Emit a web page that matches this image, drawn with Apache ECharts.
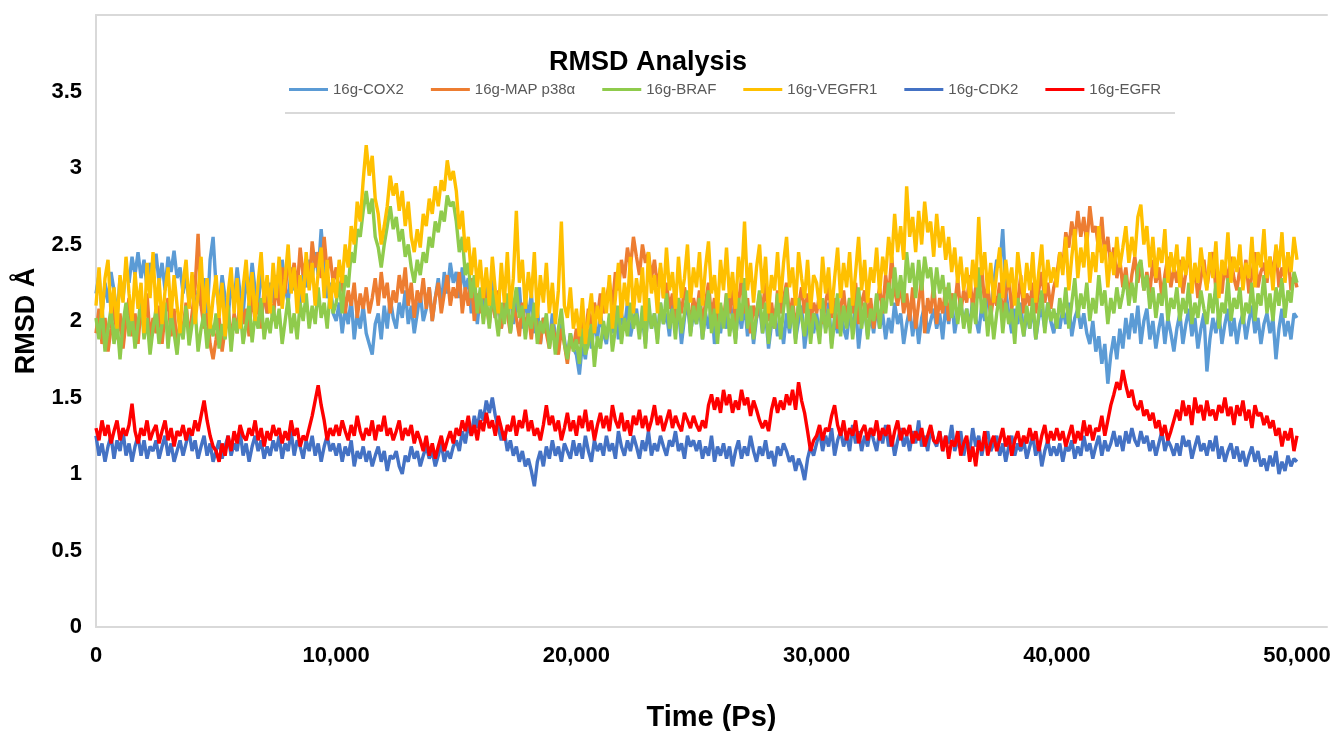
<!DOCTYPE html>
<html>
<head>
<meta charset="utf-8">
<title>RMSD Analysis</title>
<script src="https://cdn.jsdelivr.net/npm/echarts@6/dist/echarts.min.js"></script>
<style>
  html, body { margin: 0; padding: 0; background: #fff; }
  #main { width: 1330px; height: 731px; }
</style>
</head>
<body>
<div id="main"></div>
<script>
// sampling step of the trajectories (ps)
var STEP = 125;
var seriesNames = ['16g-COX2', '16g-MAP p38\u03b1', '16g-BRAF', '16g-VEGFR1', '16g-CDK2', '16g-EGFR'];
var seriesColors = ['#5B9BD5', '#ED7D31', '#8FCB4C', '#FFC000', '#4472C4', '#FF0000'];
var xTicks = [0, 10000, 20000, 30000, 40000, 50000];
var yTicks = [0, 0.5, 1, 1.5, 2, 2.5, 3, 3.5];

// RMSD values (Å), one value every 125 ps, 0 - 50,000 ps (one line = 1250 ps)
var cox2 = [
  2.18,2.30,2.05,2.25,2.12,2.32,2.20,2.02,2.28,2.15,
  2.35,2.25,2.42,2.30,2.45,2.28,2.40,2.22,2.38,2.30,
  2.44,2.25,2.38,2.20,2.42,2.32,2.46,2.28,2.35,2.18,
  2.30,2.12,2.25,2.05,2.20,2.10,2.28,2.02,2.40,2.55,
  2.22,2.08,2.30,2.15,2.02,2.25,2.12,2.35,2.18,2.05,
  2.28,2.15,2.38,2.20,2.10,2.32,2.18,2.05,2.25,2.12,
  2.30,2.18,2.40,2.22,2.12,2.35,2.20,2.28,2.10,2.32,
  2.22,2.40,2.28,2.45,2.30,2.60,2.35,2.15,2.25,2.05,
  2.00,2.12,1.92,2.08,1.98,2.15,1.88,2.05,1.95,2.10,
  1.92,1.85,1.78,1.98,2.05,1.88,2.10,1.95,2.15,2.02,
  1.95,2.12,2.02,2.20,1.98,2.10,1.92,2.05,2.18,2.00,
  2.08,2.22,2.00,2.15,2.28,2.10,2.32,2.18,2.38,2.25,
  2.32,2.15,2.35,2.20,2.28,2.05,2.22,1.98,2.18,2.05,
  2.25,2.10,2.30,2.02,2.15,1.95,2.12,2.05,2.20,1.98,
  2.10,2.22,1.95,2.15,2.02,2.18,1.92,2.08,1.85,2.02,
  1.95,1.85,2.05,1.90,1.80,1.98,1.88,1.75,1.92,1.82,
  1.78,1.65,1.85,1.75,1.95,1.82,2.00,1.88,2.05,1.92,
  1.85,2.02,1.92,2.10,1.88,2.05,1.95,2.12,1.90,2.00,
  2.08,1.92,2.02,1.85,2.10,1.95,2.05,1.88,2.12,1.98,
  2.05,1.90,2.15,1.95,2.08,1.85,2.02,2.12,1.92,2.05,
  1.98,2.10,1.88,2.05,1.95,2.12,1.85,2.02,1.92,2.08,
  1.95,2.15,2.02,1.88,2.08,1.95,2.12,1.90,2.05,1.85,
  2.02,2.10,1.92,2.05,1.82,1.98,2.08,1.90,2.02,1.85,
  2.05,1.92,2.12,1.88,2.00,2.10,1.82,1.98,2.08,1.92,
  2.05,1.90,2.08,1.95,2.12,1.85,2.02,1.92,2.10,1.95,
  1.88,2.05,1.95,2.10,1.82,2.00,2.08,1.90,2.05,1.92,
  2.10,1.95,2.05,1.88,2.02,1.92,2.12,1.98,2.05,1.85,
  1.98,2.08,1.90,2.05,1.85,2.02,2.10,1.92,2.00,2.08,
  1.95,2.05,1.88,2.10,1.98,2.15,1.92,2.05,2.12,1.98,
  2.08,1.95,2.15,2.02,1.92,2.10,2.00,2.18,2.05,2.25,
  2.40,2.35,2.60,2.20,2.05,1.92,2.08,1.98,2.12,1.90,
  2.05,1.95,2.10,1.88,2.02,2.08,1.95,2.12,2.00,1.92,
  2.05,1.95,2.08,1.98,2.12,1.90,2.02,2.08,1.95,2.05,
  1.92,1.85,2.00,1.80,1.90,1.72,1.85,1.59,1.78,1.90,
  1.75,1.95,1.82,2.02,1.88,2.05,1.92,2.10,1.85,2.00,
  2.08,1.88,2.00,1.82,1.95,2.05,1.85,2.02,1.92,1.80,
  1.95,2.05,1.85,1.98,2.08,1.90,2.02,1.82,1.95,2.05,
  1.67,1.88,2.02,1.92,2.05,1.85,1.98,2.08,1.90,2.02,
  1.85,1.98,2.05,1.88,2.00,2.10,1.92,2.02,1.85,1.98,
  2.05,1.92,2.02,1.75,1.95,2.08,1.90,2.00,1.88,2.05,
  2.02
];
var map38 = [
  1.92,2.08,1.85,2.02,1.80,1.95,2.12,1.88,2.05,1.82,
  2.00,2.15,1.90,2.05,1.85,2.10,1.95,2.18,1.88,2.02,
  1.92,2.10,1.85,2.05,2.15,1.90,2.08,1.82,2.00,1.95,
  2.12,1.88,2.05,2.22,2.57,2.10,1.95,2.05,1.85,1.75,
  1.88,2.02,1.80,1.95,2.10,1.85,2.05,1.92,2.15,1.98,
  2.08,1.90,2.18,2.02,2.12,1.95,2.22,2.05,2.15,2.00,
  2.25,2.10,2.35,2.18,2.42,2.25,2.38,2.20,2.48,2.30,
  2.40,2.22,2.52,2.35,2.45,2.28,2.55,2.32,2.42,2.25,
  2.35,2.18,2.28,2.05,2.20,2.10,2.25,2.02,2.18,2.08,
  2.22,2.05,2.15,2.28,2.10,2.32,2.15,2.25,2.05,2.20,
  2.12,2.30,2.18,2.35,2.10,2.25,2.02,2.20,2.12,2.28,
  2.08,2.22,2.00,2.15,2.25,2.05,2.18,2.30,2.10,2.22,
  2.15,2.32,2.05,2.22,2.10,2.28,2.00,2.18,2.05,2.25,
  2.10,1.98,2.15,2.02,2.20,1.95,2.12,2.05,1.92,2.10,
  2.02,1.90,2.12,1.95,2.05,1.88,2.08,1.95,1.85,2.02,
  1.92,1.82,1.98,1.88,1.78,1.95,1.85,1.72,1.90,1.82,
  1.95,1.85,2.02,1.90,2.08,1.95,2.12,2.02,2.18,2.05,
  2.15,2.25,2.10,2.32,2.20,2.40,2.28,2.48,2.35,2.55,
  2.42,2.30,2.50,2.38,2.45,2.28,2.40,2.22,2.35,2.15,
  2.25,2.08,2.18,2.02,2.15,2.05,2.22,2.10,2.00,2.15,
  2.05,2.20,1.98,2.12,2.25,2.02,2.15,1.95,2.10,2.00,
  2.18,2.05,2.22,1.98,2.12,2.28,2.05,2.15,1.92,2.10,
  2.02,2.18,2.08,2.25,2.00,2.12,1.95,2.20,2.05,2.15,
  2.25,2.02,2.15,1.95,2.10,2.22,2.05,2.18,1.98,2.12,
  2.05,2.18,1.98,2.12,2.22,2.02,2.15,1.95,2.08,2.20,
  2.00,2.15,2.05,2.25,1.98,2.12,2.20,2.02,2.15,1.95,
  2.10,2.22,2.05,2.30,2.15,2.42,2.20,2.10,2.25,2.05,
  2.18,2.00,2.22,1.95,2.12,2.28,1.92,2.15,2.05,2.25,
  1.98,2.15,2.05,2.22,2.00,2.18,2.10,2.28,2.05,2.20,
  2.12,2.30,2.08,2.22,2.15,2.35,2.10,2.25,2.02,2.18,
  2.10,2.25,2.02,2.18,2.28,2.08,2.20,2.12,2.30,2.05,
  2.18,2.10,2.25,2.05,2.20,2.32,2.12,2.25,2.08,2.22,
  2.30,2.45,2.35,2.58,2.48,2.65,2.52,2.72,2.55,2.68,
  2.50,2.75,2.58,2.62,2.45,2.68,2.42,2.55,2.35,2.48,
  2.28,2.40,2.22,2.35,2.15,2.30,2.42,2.25,2.38,2.20,
  2.32,2.18,2.40,2.25,2.35,2.15,2.30,2.42,2.22,2.35,
  2.25,2.40,2.18,2.32,2.45,2.22,2.35,2.15,2.28,2.40,
  2.22,2.35,2.45,2.20,2.30,2.18,2.38,2.25,2.42,2.28,
  2.20,2.35,2.25,2.40,2.18,2.30,2.45,2.22,2.32,2.38,
  2.25,2.42,2.30,2.48,2.22,2.35,2.28,2.45,2.20,2.30,
  2.22
];
var braf = [
  2.02,1.88,2.10,1.80,1.95,2.08,1.85,2.00,1.75,1.98,
  2.12,1.90,2.05,1.82,1.98,2.15,1.88,2.02,1.78,1.95,
  2.08,1.85,1.98,2.12,1.82,2.05,1.92,1.78,2.00,1.88,
  2.10,1.84,1.98,2.08,1.80,1.95,2.05,1.82,2.00,1.90,
  2.05,1.82,1.98,1.88,2.10,1.80,2.02,1.92,2.08,1.85,
  1.98,2.12,1.86,2.05,1.95,2.15,1.88,2.02,1.92,2.10,
  1.95,2.08,1.85,2.00,2.15,1.92,2.05,1.88,2.12,2.00,
  2.18,1.95,2.10,1.98,2.22,2.02,2.12,1.95,2.20,2.05,
  2.12,2.25,2.05,2.30,2.22,2.45,2.38,2.60,2.55,2.72,
  2.85,2.70,2.80,2.55,2.48,2.35,2.50,2.62,2.75,2.60,
  2.68,2.52,2.60,2.42,2.50,2.35,2.25,2.40,2.30,2.45,
  2.38,2.55,2.48,2.65,2.58,2.72,2.65,2.82,2.75,2.78,
  2.65,2.45,2.55,2.30,2.38,2.15,2.30,2.05,2.22,1.98,
  2.15,1.95,2.20,2.05,1.90,2.12,1.98,2.18,1.92,2.08,
  2.22,2.02,2.10,1.88,2.05,1.95,2.12,1.85,2.00,1.92,
  2.05,1.82,1.98,1.78,1.95,2.08,1.85,1.75,1.92,1.80,
  1.88,1.72,1.95,1.78,1.85,1.98,1.70,1.90,1.82,2.00,
  1.88,2.05,1.80,1.95,2.10,1.85,2.02,1.90,2.12,1.95,
  2.05,1.88,2.10,1.82,2.15,1.95,2.05,1.85,2.12,1.98,
  2.18,1.95,2.08,1.88,2.15,1.92,2.05,2.20,1.90,2.10,
  1.98,2.15,1.88,2.05,2.20,1.92,2.08,1.85,2.12,1.95,
  2.18,1.90,2.05,1.85,2.15,2.00,2.28,1.95,2.10,1.88,
  2.05,2.20,1.92,2.12,1.85,2.05,1.95,2.18,1.88,2.08,
  2.22,1.95,2.10,1.85,2.15,2.02,1.90,2.12,1.85,2.05,
  2.00,1.85,2.15,1.92,2.08,1.82,2.02,2.18,1.90,2.10,
  1.95,2.15,1.88,2.05,2.22,1.95,2.12,1.88,2.08,2.00,
  2.18,1.95,2.15,2.05,2.25,2.10,2.35,2.15,2.30,2.12,
  2.45,2.25,2.38,2.15,2.40,2.20,2.42,2.28,2.35,2.15,
  2.35,2.18,2.30,2.10,2.25,2.02,2.18,1.98,2.15,1.95,
  2.08,1.92,2.12,1.98,2.35,2.05,2.15,1.90,2.10,1.88,
  2.05,2.18,1.92,2.12,1.98,2.08,1.85,2.15,2.02,1.90,
  2.10,1.95,2.15,1.88,2.05,2.20,1.92,2.12,2.00,2.08,
  1.95,2.15,2.02,2.22,1.95,2.12,2.28,2.02,2.18,2.08,
  2.25,2.00,2.15,2.05,2.30,2.10,2.20,1.98,2.15,2.05,
  2.22,2.08,2.18,2.30,2.10,2.25,2.12,2.35,2.40,2.20,
  2.30,2.08,2.22,2.02,2.18,2.10,2.28,2.00,2.15,2.08,
  2.22,2.00,2.15,2.05,2.25,1.98,2.12,2.02,2.20,2.08,
  1.98,2.18,2.05,2.25,1.95,2.12,2.05,2.28,2.00,2.15,
  2.08,2.22,1.98,2.12,2.05,2.25,2.00,2.18,2.10,2.30,
  2.05,2.18,2.00,2.22,2.10,2.28,2.02,2.20,2.12,2.32,
  2.25
];
var vegfr1 = [
  2.10,2.35,2.02,2.28,2.40,2.05,2.22,1.95,2.30,2.12,
  2.42,2.18,2.00,2.32,2.08,2.25,1.92,2.38,2.15,2.45,
  2.05,2.28,1.98,2.20,2.35,2.02,2.30,2.10,1.92,2.25,
  2.40,2.08,2.32,1.98,2.18,2.42,2.05,2.28,1.95,2.15,
  2.30,2.02,2.25,1.90,2.18,2.35,2.05,2.28,1.95,2.22,
  2.40,2.10,2.32,2.00,2.25,2.45,2.12,2.30,2.05,2.38,
  2.15,2.42,2.08,2.28,2.50,2.18,2.35,2.05,2.30,2.12,
  2.45,2.20,2.38,2.10,2.32,2.48,2.15,2.40,2.08,2.28,
  2.15,2.40,2.25,2.50,2.35,2.62,2.50,2.78,2.65,2.92,
  3.15,2.95,3.08,2.80,2.70,2.50,2.62,2.75,2.95,2.82,
  2.90,2.72,2.85,2.62,2.78,2.55,2.45,2.60,2.48,2.70,
  2.62,2.80,2.70,2.88,2.75,2.92,2.85,3.05,2.92,2.98,
  2.85,2.60,2.72,2.45,2.55,2.30,2.48,2.22,2.40,2.15,
  2.35,2.10,2.42,2.20,2.05,2.38,2.12,2.45,2.08,2.28,
  2.72,2.25,2.40,2.08,2.32,2.15,2.45,2.02,2.30,2.12,
  2.38,2.05,2.25,1.98,2.20,2.65,2.10,2.02,2.22,1.95,
  2.08,1.90,2.15,1.85,2.02,2.18,1.92,2.10,1.98,2.22,
  2.05,2.30,1.95,2.15,2.38,2.02,2.25,2.10,2.42,2.05,
  2.28,2.12,2.35,2.00,2.45,2.18,2.30,2.05,2.38,2.15,
  2.48,2.20,2.32,2.08,2.42,2.15,2.28,2.50,2.12,2.35,
  2.22,2.45,2.10,2.35,2.52,2.18,2.30,2.05,2.40,2.20,
  2.48,2.15,2.32,2.08,2.42,2.25,2.65,2.20,2.38,2.12,
  2.35,2.50,2.18,2.42,2.05,2.30,2.20,2.45,2.12,2.38,
  2.55,2.22,2.35,2.10,2.45,2.28,2.15,2.40,2.08,2.30,
  2.25,2.08,2.42,2.18,2.35,2.05,2.28,2.48,2.15,2.38,
  2.22,2.45,2.10,2.32,2.55,2.20,2.40,2.12,2.35,2.25,
  2.48,2.18,2.42,2.30,2.55,2.38,2.70,2.45,2.62,2.40,
  2.88,2.55,2.68,2.45,2.72,2.50,2.78,2.58,2.65,2.42,
  2.70,2.48,2.62,2.40,2.55,2.32,2.48,2.25,2.42,2.20,
  2.35,2.15,2.40,2.22,2.68,2.30,2.45,2.18,2.38,2.12,
  2.32,2.48,2.15,2.40,2.22,2.35,2.10,2.45,2.28,2.15,
  2.38,2.20,2.45,2.12,2.32,2.50,2.18,2.40,2.25,2.35,
  2.22,2.45,2.30,2.55,2.20,2.42,2.60,2.28,2.48,2.35,
  2.58,2.25,2.45,2.32,2.62,2.38,2.50,2.22,2.45,2.30,
  2.55,2.35,2.48,2.62,2.38,2.55,2.42,2.68,2.76,2.50,
  2.62,2.35,2.55,2.28,2.48,2.38,2.60,2.25,2.45,2.32,
  2.50,2.22,2.42,2.30,2.55,2.18,2.38,2.25,2.48,2.32,
  2.20,2.45,2.28,2.52,2.15,2.40,2.30,2.58,2.25,2.42,
  2.32,2.50,2.20,2.38,2.28,2.55,2.22,2.45,2.35,2.60,
  2.28,2.42,2.20,2.50,2.35,2.58,2.25,2.45,2.32,2.55,
  2.40
];
var cdk2 = [
  1.25,1.12,1.20,1.08,1.18,1.25,1.10,1.22,1.15,1.28,
  1.12,1.20,1.08,1.18,1.25,1.12,1.22,1.10,1.18,1.15,
  1.22,1.10,1.18,1.25,1.12,1.20,1.08,1.15,1.22,1.12,
  1.20,1.28,1.15,1.22,1.10,1.18,1.25,1.12,1.20,1.08,
  1.15,1.22,1.10,1.18,1.25,1.12,1.20,1.15,1.28,1.12,
  1.20,1.08,1.18,1.25,1.15,1.22,1.10,1.18,1.12,1.22,
  1.15,1.25,1.10,1.20,1.15,1.28,1.12,1.22,1.18,1.10,
  1.22,1.15,1.25,1.12,1.20,1.08,1.18,1.25,1.15,1.20,
  1.12,1.20,1.08,1.18,1.12,1.22,1.05,1.15,1.10,1.18,
  1.08,1.15,1.05,1.12,1.18,1.08,1.15,1.02,1.12,1.10,
  1.15,1.05,1.00,1.12,1.08,1.18,1.10,1.15,1.05,1.12,
  1.18,1.10,1.15,1.05,1.12,1.20,1.08,1.15,1.10,1.18,
  1.22,1.15,1.28,1.20,1.32,1.25,1.38,1.30,1.42,1.35,
  1.48,1.40,1.50,1.38,1.30,1.22,1.28,1.15,1.22,1.12,
  1.18,1.08,1.15,1.05,1.10,1.02,0.92,1.08,1.15,1.05,
  1.18,1.10,1.22,1.12,1.18,1.08,1.20,1.15,1.10,1.22,
  1.12,1.20,1.10,1.25,1.15,1.08,1.22,1.15,1.20,1.12,
  1.25,1.15,1.20,1.10,1.28,1.18,1.12,1.22,1.15,1.25,
  1.18,1.10,1.22,1.15,1.28,1.12,1.20,1.15,1.25,1.18,
  1.12,1.22,1.18,1.28,1.15,1.20,1.10,1.25,1.18,1.22,
  1.15,1.22,1.10,1.18,1.12,1.25,1.08,1.18,1.12,1.20,
  1.10,1.18,1.05,1.15,1.22,1.10,1.18,1.12,1.25,1.15,
  1.08,1.18,1.12,1.22,1.10,1.15,1.05,1.18,1.12,1.20,
  1.15,1.08,1.12,1.02,1.10,1.05,0.96,1.10,1.18,1.12,
  1.20,1.28,1.15,1.25,1.18,1.30,1.12,1.22,1.28,1.18,
  1.25,1.15,1.32,1.20,1.28,1.15,1.25,1.18,1.30,1.22,
  1.15,1.28,1.20,1.32,1.18,1.25,1.12,1.22,1.30,1.18,
  1.25,1.15,1.28,1.20,1.35,1.18,1.25,1.15,1.30,1.22,
  1.18,1.28,1.15,1.25,1.20,1.32,1.15,1.22,1.28,1.12,
  1.22,1.15,1.30,1.18,1.25,1.12,1.22,1.28,1.15,1.20,
  1.25,1.12,1.20,1.08,1.18,1.25,1.12,1.20,1.15,1.22,
  1.10,1.18,1.25,1.12,1.20,1.05,1.15,1.22,1.12,1.18,
  1.12,1.20,1.08,1.18,1.15,1.22,1.10,1.18,1.12,1.25,
  1.15,1.20,1.10,1.18,1.25,1.12,1.22,1.15,1.20,1.28,
  1.18,1.25,1.15,1.28,1.20,1.30,1.22,1.18,1.28,1.20,
  1.25,1.15,1.22,1.12,1.20,1.28,1.15,1.22,1.18,1.12,
  1.20,1.12,1.25,1.18,1.22,1.10,1.18,1.25,1.15,1.20,
  1.12,1.22,1.15,1.25,1.10,1.18,1.08,1.15,1.20,1.10,
  1.18,1.08,1.15,1.05,1.12,1.18,1.08,1.15,1.05,1.10,
  1.02,1.12,1.05,1.15,1.00,1.08,1.02,1.12,1.05,1.10,
  1.08
];
var egfr = [
  1.30,1.22,1.35,1.25,1.32,1.20,1.28,1.35,1.22,1.30,
  1.25,1.32,1.46,1.28,1.20,1.30,1.25,1.35,1.22,1.28,
  1.32,1.20,1.28,1.35,1.22,1.30,1.18,1.28,1.25,1.32,
  1.22,1.30,1.25,1.35,1.28,1.38,1.48,1.35,1.25,1.18,
  1.15,1.08,1.20,1.12,1.25,1.15,1.28,1.20,1.32,1.25,
  1.22,1.30,1.25,1.35,1.22,1.30,1.18,1.28,1.22,1.32,
  1.25,1.30,1.20,1.28,1.22,1.35,1.25,1.30,1.18,1.25,
  1.22,1.30,1.38,1.48,1.58,1.45,1.35,1.22,1.30,1.25,
  1.32,1.25,1.35,1.28,1.22,1.32,1.25,1.38,1.28,1.22,
  1.30,1.25,1.35,1.22,1.32,1.28,1.38,1.25,1.30,1.22,
  1.28,1.35,1.22,1.30,1.25,1.32,1.20,1.28,1.22,1.15,
  1.25,1.12,1.20,1.10,1.18,1.25,1.15,1.22,1.28,1.20,
  1.30,1.25,1.35,1.28,1.38,1.25,1.32,1.22,1.35,1.28,
  1.40,1.30,1.35,1.25,1.38,1.30,1.22,1.32,1.28,1.38,
  1.25,1.35,1.30,1.42,1.28,1.35,1.25,1.30,1.22,1.32,
  1.45,1.32,1.38,1.28,1.35,1.22,1.30,1.40,1.28,1.35,
  1.25,1.38,1.30,1.42,1.28,1.35,1.22,1.32,1.40,1.30,
  1.38,1.28,1.45,1.35,1.30,1.40,1.28,1.35,1.25,1.38,
  1.32,1.42,1.30,1.38,1.28,1.35,1.45,1.32,1.38,1.28,
  1.35,1.42,1.30,1.38,1.32,1.28,1.40,1.35,1.30,1.38,
  1.32,1.28,1.35,1.30,1.45,1.52,1.42,1.50,1.40,1.55,
  1.45,1.52,1.40,1.48,1.42,1.55,1.45,1.50,1.38,1.48,
  1.42,1.35,1.30,1.35,1.28,1.42,1.50,1.40,1.48,1.42,
  1.52,1.45,1.55,1.42,1.60,1.48,1.40,1.28,1.15,1.22,
  1.25,1.32,1.22,1.30,1.28,1.38,1.45,1.32,1.25,1.35,
  1.22,1.30,1.25,1.35,1.20,1.28,1.32,1.22,1.30,1.25,
  1.35,1.22,1.30,1.25,1.32,1.18,1.28,1.35,1.22,1.30,
  1.25,1.32,1.20,1.28,1.22,1.30,1.18,1.25,1.32,1.22,
  1.20,1.28,1.15,1.25,1.10,1.22,1.18,1.28,1.12,1.20,
  1.25,1.08,1.18,1.05,1.22,1.15,1.28,1.12,1.20,1.25,
  1.15,1.22,1.30,1.18,1.25,1.12,1.22,1.28,1.18,1.25,
  1.20,1.30,1.22,1.28,1.15,1.25,1.32,1.20,1.28,1.22,
  1.30,1.22,1.28,1.18,1.25,1.32,1.20,1.28,1.22,1.35,
  1.25,1.32,1.22,1.30,1.28,1.38,1.25,1.35,1.45,1.52,
  1.60,1.55,1.68,1.58,1.50,1.55,1.45,1.42,1.48,1.38,
  1.42,1.35,1.40,1.30,1.35,1.25,1.32,1.22,1.28,1.35,
  1.42,1.35,1.48,1.38,1.45,1.32,1.50,1.40,1.45,1.35,
  1.48,1.38,1.42,1.35,1.45,1.40,1.50,1.38,1.44,1.32,
  1.45,1.38,1.48,1.35,1.42,1.30,1.45,1.38,1.40,1.32,
  1.38,1.30,1.35,1.25,1.30,1.18,1.28,1.22,1.30,1.15,
  1.25
];

var allValues = [cox2, map38, braf, vegfr1, cdk2, egfr];

var myChart = echarts.init(document.getElementById('main'));

var FONT = 'Liberation Sans, Arial, sans-serif';
var AXIS_GRAY = '#D9D9D9';

// pair every value with its sample time
function toPairs(arr) {
  return arr.map(function (v, i) { return [i * STEP, v]; });
}

var series = [];
for (var k = 0; k < seriesNames.length; k++) {
  series.push({
    name: seriesNames[k],
    type: 'line',
    data: toPairs(allValues[k]),
    showSymbol: false,
    symbol: 'none',
    lineStyle: { color: seriesColors[k], width: 3.4 },
    itemStyle: { color: seriesColors[k] },
    emphasis: { disabled: true }
  });
}

var option = {
  animation: false,
  backgroundColor: '#fff',
  title: {
    text: 'RMSD Analysis',
    left: 643,
    textAlign: 'center',
    top: 44,
    textStyle: { fontFamily: FONT, fontSize: 27, fontWeight: 'bold', color: '#000' }
  },
  legend: {
    data: seriesNames,
    left: 284,
    top: 77,
    icon: 'rect',
    itemWidth: 39,
    itemHeight: 3,
    itemGap: 27,
    textStyle: { fontFamily: FONT, fontSize: 15, color: '#595959' }
  },
  grid: { left: 96, right: 3, top: 15, bottom: 104, containLabel: false, outerBoundsMode: 'none' },
  xAxis: [{
    type: 'value',
    min: 0,
    max: 51250,
    interval: 10000,
    name: 'Time (Ps)',
    nameLocation: 'middle',
    nameGap: 76,
    nameTextStyle: { fontFamily: FONT, fontSize: 29, fontWeight: 'bold', color: '#000' },
    axisLine: { show: true, lineStyle: { color: AXIS_GRAY, width: 2 } },
    axisTick: { show: false },
    splitLine: { show: false },
    axisLabel: {
      showMaxLabel: false,
      margin: 18,
      fontFamily: FONT, fontSize: 22, fontWeight: 'bold', color: '#000',
      formatter: function (v) {
        return xTicks.indexOf(v) >= 0 ? v.toLocaleString('en-US') : '';
      }
    }
  }, {
    // thin top frame line
    type: 'value',
    position: 'top',
    min: 0,
    max: 51250,
    axisLine: { show: true, onZero: false, lineStyle: { color: AXIS_GRAY, width: 2 } },
    axisTick: { show: false },
    axisLabel: { show: false },
    splitLine: { show: false }
  }],
  yAxis: {
    type: 'value',
    min: 0,
    max: 4,
    interval: 0.5,
    name: 'RMSD \u00c5',
    nameLocation: 'middle',
    nameGap: 47,
    nameTextStyle: { fontFamily: FONT, fontSize: 27, fontWeight: 'bold', color: '#000' },
    axisLine: { show: true, lineStyle: { color: AXIS_GRAY, width: 2 } },
    axisTick: { show: false },
    splitLine: { show: false },
    axisLabel: {
      margin: 14,
      fontFamily: FONT, fontSize: 22, fontWeight: 'bold', color: '#000',
      formatter: function (v) {
        return yTicks.indexOf(v) >= 0 ? String(v) : '';
      }
    }
  },
  graphic: [{
    // separator under the legend
    type: 'line',
    shape: { x1: 285, y1: 113, x2: 1175, y2: 113 },
    style: { stroke: AXIS_GRAY, lineWidth: 2 },
    silent: true
  }],
  series: series
};

myChart.setOption(option);
</script>
</body>
</html>
